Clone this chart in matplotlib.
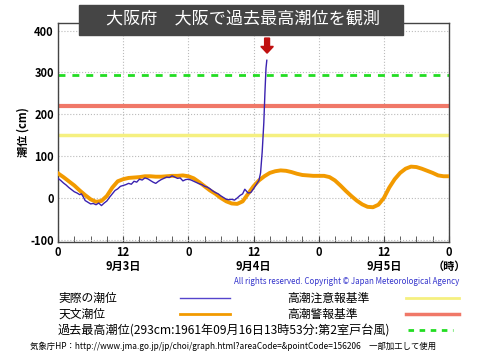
import matplotlib.pyplot as plt
from matplotlib.patches import Rectangle

plt.rcParams['font.family'] = ['Noto Sans CJK JP', 'DejaVu Sans']

# observed tide (hours from 9/3 0:00, cm)
obs_h = [0, 0.5, 1, 1.5, 2, 2.5, 3, 3.5, 4, 4.3, 4.6, 5, 5.5, 6, 6.5, 7, 7.5, 8, 8.5, 9,
         9.5, 10, 10.5, 11, 11.5, 12, 12.5, 13, 13.5, 14, 14.5, 15, 15.5, 16, 16.5, 17,
         17.5, 18, 18.5, 19, 19.5, 20, 20.5, 21, 21.5, 22, 22.5, 23, 23.5, 24, 24.5, 25,
         25.5, 26, 26.5, 27, 27.5, 28, 28.5, 29, 29.5, 30, 30.5, 31, 31.5, 32, 32.5, 33,
         33.5, 34, 34.4, 35, 35.5, 36, 36.5, 37, 37.3, 37.6, 37.9, 38.1, 38.3, 38.45]
obs_v = [47, 42, 36, 31, 25, 20, 15, 12, 8, 10, 4, -6, -10, -14, -13, -16, -12, -18, -12, -7,
         2, 10, 18, 22, 28, 30, 32, 35, 33, 40, 38, 45, 43, 48, 46, 42,
         38, 35, 40, 44, 47, 50, 49, 53, 50, 47, 48, 41, 44, 45, 43, 40,
         37, 34, 32, 28, 26, 22, 17, 13, 10, 5, 1, -3, -4, -3, -5, 0,
         6, 10, 21, 12, 13, 22, 32, 42, 60, 110, 180, 250, 310, 329]

# astronomical tide
ast_h = list(range(0, 73))
ast_v = [59, 50, 40, 30, 18, 7, -3, -9, -7, 5, 25, 40, 45, 48, 49, 50, 52, 52, 51, 51,
         52, 53, 53, 54, 52, 47, 38, 28, 18, 10, 0, -8, -13, -14, -8, 10, 28, 42, 52, 60,
         64, 66, 65, 62, 58, 55, 54, 53, 53, 53, 50, 42, 30, 17, 5, -6, -15, -21, -22, -16,
         0, 25, 45, 60, 70, 75, 74, 70, 65, 60, 54, 52, 52]

caution = 150
warning = 220
record = 293

dates = ['9月3日', '9月4日', '9月5日']

fig = plt.figure(figsize=(4.8, 3.6), dpi=100)
ax = fig.add_axes([58 / 480, 1 - 242 / 360, 391 / 480, 219 / 360])

ax.axhline(record, color='#22dd22', lw=2, ls=(0, (2.5, 2.5)), zorder=2)
ax.axhline(warning, color='#f07868', lw=3, zorder=2)
ax.axhline(caution, color='#f5f080', lw=2.5, zorder=2)
ax.plot(ast_h, ast_v, color='#f29a00', lw=2.8, zorder=3)
ax.plot(obs_h, obs_v, color='#3a22b0', lw=1, zorder=4)
ax.arrow(38.5, 382, 0, -20, width=0.9, head_width=2.3, head_length=16,
         length_includes_head=False, color='#c01010', zorder=5)

ax.set_xlim(0, 72)
ax.set_ylim(-105, 418)
ax.set_yticks(range(-100, 401, 100))
ax.set_yticklabels(['-100', '0', '100', '200', '300', '400'], fontweight='bold', fontsize=8)
ax.set_xticks(range(0, 73, 12))
ax.set_xticklabels(['0', '12', '0', '12', '0', '12', '0'], fontweight='bold', fontsize=8)
ax.set_xticks(range(0, 73, 3), minor=True)
ax.tick_params(axis='x', which='both', direction='in', length=4, color='#444444', pad=3)
ax.tick_params(axis='y', length=0, pad=3)
ax.grid(True, which='major', color='#bbbbbb', ls=':', lw=0.8)
for s in ax.spines.values():
    s.set_color('#444444')
    s.set_linewidth(1)

tr = ax.get_xaxis_transform()
for h, d in zip([12, 36, 60], dates):
    ax.text(h, -24 / 219, d, transform=tr, ha='center', va='center', fontsize=8, fontweight='bold')
ax.text(72, -24 / 219, '（時）', transform=tr, ha='center', va='center', fontsize=8, fontweight='bold')
ax.set_ylabel('潮位 (cm)', fontsize=8, fontweight='bold')
ax.yaxis.set_label_coords(-0.072, 0.5)

fig.text(459 / 480, 1 - 282 / 360, 'All rights reserved. Copyright © Japan Meteorological Agency',
         ha='right', va='center', fontsize=5.7, color='#3333cc')

# title banner
fig.add_artist(Rectangle((79 / 480, 1 - 35 / 360), 324 / 480, 30 / 360,
                         transform=fig.transFigure, color='#454545', zorder=10))
fig.text(243 / 480, 1 - 20 / 360, '大阪府　大阪で過去最高潮位を観測', ha='center', va='center',
         fontsize=12.3, color='white', zorder=11)

# legend
fig.text(58 / 480, 1 - 298 / 360, '実際の潮位', va='center', fontsize=8.5)
fig.text(58 / 480, 1 - 314 / 360, '天文潮位', va='center', fontsize=8.5)
fig.text(287 / 480, 1 - 298 / 360, '高潮注意報基準', va='center', fontsize=8.5)
fig.text(287 / 480, 1 - 314 / 360, '高潮警報基準', va='center', fontsize=8.5)
fig.text(58 / 480, 1 - 330 / 360, '過去最高潮位(293cm:1961年09月16日13時53分:第2室戸台風)',
         va='center', fontsize=8.7)
fig.add_artist(plt.Line2D([180 / 480, 230 / 480], [1 - 298 / 360] * 2, color='#5544cc', lw=1))
fig.add_artist(plt.Line2D([180 / 480, 230 / 480], [1 - 314 / 360] * 2, color='#f29a00', lw=2))
fig.add_artist(plt.Line2D([406 / 480, 459 / 480], [1 - 298 / 360] * 2, color='#f5f080', lw=2))
fig.add_artist(plt.Line2D([406 / 480, 459 / 480], [1 - 314 / 360] * 2, color='#f07868', lw=2.5))
fig.add_artist(plt.Line2D([408 / 480, 453 / 480], [1 - 330 / 360] * 2, color='#22dd22', lw=2,
                          ls=(0, (2, 2))))

fig.text(30 / 480, 1 - 346 / 360,
         '気象庁HP：http://www.jma.go.jp/jp/choi/graph.html?areaCode=&pointCode=156206　一部加工して使用',
         va='center', fontsize=6)

fig.savefig('out.png', dpi=100)
